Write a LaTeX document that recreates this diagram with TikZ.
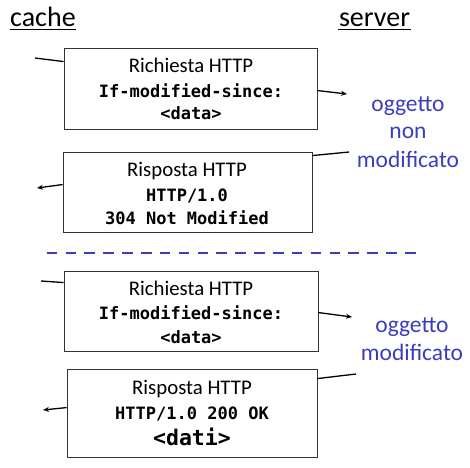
\documentclass[tikz,border=0pt]{standalone}
\usepackage{fontspec}
\setmainfont{Carlito}
\setmonofont{DejaVu Sans Mono}
\usetikzlibrary{calc,arrows.meta}
\definecolor{blu}{RGB}{60,60,190}
\begin{document}
\begin{tikzpicture}[x=1pt,y=-1pt,
  box/.style={draw=black!80,line width=0.9pt,inner sep=0pt},
  lbl/.style={anchor=base,inner sep=0pt,font=\fontsize{20.8}{23}\selectfont},
  code/.style={anchor=base,inner sep=0pt,font=\fontsize{17}{20}\selectfont\ttfamily\bfseries},
  blue/.style={anchor=base,inner sep=0pt,text=blu,font=\fontsize{23.5}{28}\selectfont},
  head/.style={anchor=base,inner sep=0pt,font=\fontsize{28}{32}\selectfont},
  conn/.style={line width=1.3pt},
  arr/.style={line width=1.3pt,-{Stealth[length=6pt,width=5pt]}}]
\useasboundingbox (0,0) rectangle (470,467);
% headers
\node[head,anchor=base west] (hc) at (10,26) {cache};
\node[head] (hs) at (374.5,26) {server};
\draw[line width=1.2pt] (10,29.5) -- (76,29.5);
\draw[line width=1.2pt] (338,29.5) -- (411,29.5);
% boxes
\node[box,minimum width=253pt,minimum height=81pt] (b1) at (190.5,88.5) {};
\node[box,minimum width=249pt,minimum height=80pt] (b2) at (187.5,192) {};
\node[box,minimum width=254pt,minimum height=80pt] (b3) at (191,311) {};
\node[box,minimum width=250pt,minimum height=88pt] (b4) at (192,413) {};
% box texts
\node[lbl] (t1a) at (191,72) {Richiesta HTTP};
\node[code] (t1b) at (191,97) {If-modified-since:};
\node[code] (t1c) at (191,119) {<data>};
\node[lbl] (t2a) at (187,176) {Risposta HTTP};
\node[code] (t2b) at (187,201) {HTTP/1.0};
\node[code] (t2c) at (187,224) {304 Not Modified};
\node[lbl] (t3a) at (191,295) {Richiesta HTTP};
\node[code] (t3b) at (191,319) {If-modified-since:};
\node[code] (t3c) at (191,343) {<data>};
\node[lbl] (t4a) at (192,394) {Risposta HTTP};
\node[code] (t4b) at (192,419) {HTTP/1.0 200 OK};
\node[code,font=\fontsize{21.5}{24}\selectfont\ttfamily\bfseries] (t4c) at (192,445) {<dati>};
% blue labels
\node[blue] (o1a) at (408,111) {oggetto};
\node[blue] (o1b) at (408,138) {non};
\node[blue] (o1c) at (408,167) {modificato};
\node[blue] (o2a) at (412,332) {oggetto};
\node[blue] (o2b) at (412,360) {modificato};
% dashed separator
\coordinate (d1) at (46.7,253);
\coordinate (d2) at (415.5,253);
\draw[blu,line width=2.8pt,dash pattern=on 10.5pt off 8.36pt] (d1) -- (d2);
% connectors
\coordinate (c1) at (35,58);
\coordinate (c2) at (347,94);
\coordinate (c3) at (349,152);
\coordinate (c4) at (37,188);
\coordinate (c5) at (41,281);
\coordinate (c6) at (352,317);
\coordinate (c7) at (356,374);
\coordinate (c8) at (43,410);
\draw[conn] (c1) -- ($(b1.north west)+(0,14)$);
\draw[arr] ($(b1.north east)+(0,43)$) -- (c2);
\draw[conn] (c3) -- ($(b2.north east)+(0,4)$);
\draw[arr] ($(b2.north west)+(0,33)$) -- (c4);
\draw[conn] (c5) -- ($(b3.north west)+(0,12)$);
\draw[arr] ($(b3.north east)+(0,42)$) -- (c6);
\draw[conn] (c7) -- ($(b4.north east)+(0,10)$);
\draw[arr] ($(b4.north west)+(0,39)$) -- (c8);
\end{tikzpicture}
\end{document}
